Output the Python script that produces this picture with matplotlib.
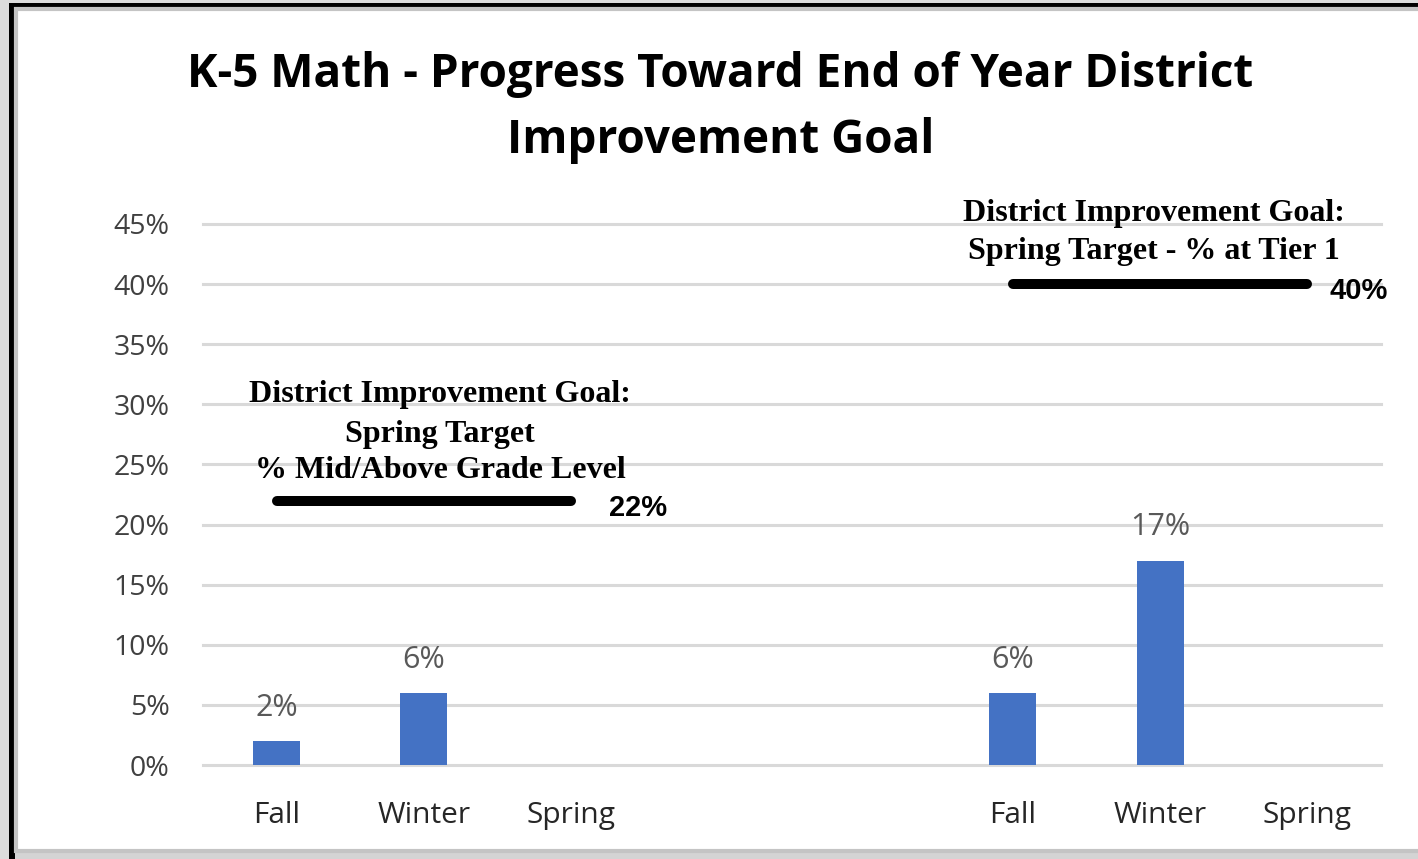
import matplotlib.pyplot as plt
from matplotlib.patches import Rectangle

# data
categories = ["Fall", "Winter", "Spring", "", "", "Fall", "Winter", "Spring"]
values = [0.02, 0.06, None, None, None, 0.06, 0.17, None]
goal_left = 0.22
goal_right = 0.40
goal_left_text = ["District Improvement Goal:", "Spring Target", "% Mid/Above Grade Level"]
goal_right_text = ["District Improvement Goal:", "Spring Target - % at Tier 1"]
yticks = [0, 0.05, 0.10, 0.15, 0.20, 0.25, 0.30, 0.35, 0.40, 0.45]

W, H = 1418, 859
fig = plt.figure(figsize=(W / 100, H / 100), dpi=100)
fig.patch.set_facecolor("#dcdcdc")

# picture frame
fig.patches.append(Rectangle((9 / W, 0), 1, 1 - 3 / H, transform=fig.transFigure,
                             facecolor="black", edgecolor="none", zorder=-3))
fig.patches.append(Rectangle((15 / W, 0), 1, 1 - 8 / H, transform=fig.transFigure,
                             facecolor="#d4d4d4", edgecolor="none", zorder=-2))
fig.patches.append(Rectangle((16 / W, 8 / H), 1, 1 - 17 / H, transform=fig.transFigure,
                             facecolor="white", edgecolor="#c4c4c4", linewidth=3, zorder=-1))

ax = fig.add_axes([203 / W, 1 - 765 / H, (1381 - 203) / W, (765 - 224) / H])
ax.set_facecolor("none")

x = list(range(len(categories)))
bx = [i for i, v in zip(x, values) if v is not None]
bv = [v for v in values if v is not None]
ax.bar(bx, bv, width=0.32, color="#4472C4", zorder=3)
for i, v in zip(bx, bv):
    ax.annotate(f"{round(v * 100)}%", (i, v), xytext=(0, 24), textcoords="offset points",
                ha="center", va="center", fontsize=22, color="#595959", family="Open Sans")

ax.set_xlim(-0.5, len(categories) - 0.5)
ax.set_ylim(0, 0.45)
ax.set_yticks(yticks)
ax.set_yticklabels([f"{round(t * 100)}%" for t in yticks])
ax.set_xticks(x)
ax.set_xticklabels(categories)
ax.yaxis.grid(True, color="#d9d9d9", linewidth=2.2, zorder=0)
for gl in ax.get_ygridlines():
    gl.set_clip_on(False)
ax.set_axisbelow(True)
for s in ax.spines.values():
    s.set_visible(False)
ax.tick_params(axis="y", length=0, pad=24, labelsize=20.5, labelcolor="#404040")
ax.tick_params(axis="x", length=0, pad=26, labelsize=21.5, labelcolor="#262626")
for lab in ax.get_xticklabels() + ax.get_yticklabels():
    lab.set_family("Open Sans")

# goal lines
ax.plot([0, 2], [goal_left, goal_left], color="black", lw=7.2, solid_capstyle="round", zorder=4)
ax.plot([5, 7], [goal_right, goal_right], color="black", lw=7.2, solid_capstyle="round", zorder=4)
ax.text(2.26, goal_left - 0.006, f"{round(goal_left * 100)}%", fontsize=21, fontweight="bold",
        family="Liberation Sans", va="center", ha="left")
ax.text(7.15, goal_right - 0.006, f"{round(goal_right * 100)}%", fontsize=21, fontweight="bold",
        family="Liberation Sans", va="center", ha="left")

for txt, yy in zip(goal_left_text, [0.308, 0.275, 0.245]):
    ax.text(1.11, yy, txt, ha="center", va="center", fontsize=23, fontweight="bold",
            family="Liberation Serif")
for txt, yy in zip(goal_right_text, [0.459, 0.427]):
    ax.text(5.96, yy, txt, ha="center", va="center", fontsize=23, fontweight="bold",
            family="Liberation Serif")

fig.text(0.508, 1 - 75 / H, "K-5 Math - Progress Toward End of Year District",
         ha="center", va="center", fontsize=33, fontweight="bold", family="Open Sans")
fig.text(0.508, 1 - 140 / H, "Improvement Goal",
         ha="center", va="center", fontsize=33, fontweight="bold", family="Open Sans")

fig.savefig("out.png", dpi=100, facecolor=fig.get_facecolor())
